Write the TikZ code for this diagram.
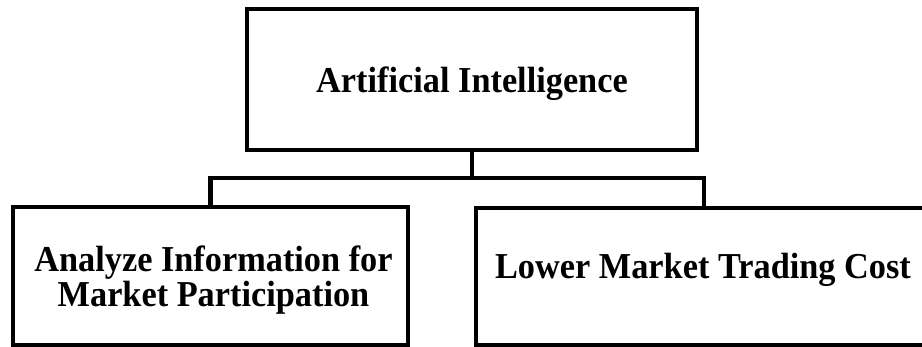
\documentclass[tikz,border=0pt]{standalone}
\usepackage{fontspec}
\setmainfont{Liberation Serif}[FakeStretch=0.94]
\begin{document}
\begin{tikzpicture}[x=1pt,y=-1pt,
  box/.style={draw=black,line width=4.5pt,rectangle,inner sep=0pt},
  txt/.style={inner sep=0pt,align=center,
    font=\fontsize{36.5}{33}\selectfont\bfseries},
  conn/.style={draw=black,line width=4.5pt,line join=miter}]
\useasboundingbox (0,0) rectangle (922,347);
\clip (0,0) rectangle (922,347);
\fill[white] (0,0) rectangle (922,347);
\node[box,minimum width=450pt,minimum height=141pt] (top) at (472,79.5) {};
\node[box,minimum width=395pt,minimum height=138pt] (left) at (210.5,276) {};
\node[box,minimum width=456pt,minimum height=137pt] (right) at (704,276.5) {};
\node[txt,anchor=base] (toptext) at (472,93) {Artificial Intelligence};
\node[txt] (lefttext) at (213.5,280) {Analyze Information for\\Market Participation};
\node[txt,anchor=base] (righttext) at (703,279) {Lower Market Trading Cost};
\draw[conn] (top.south) -- (472,178) coordinate (j);
\draw[conn] (left.north) |- (j) -| (right.north);
\end{tikzpicture}
\end{document}
